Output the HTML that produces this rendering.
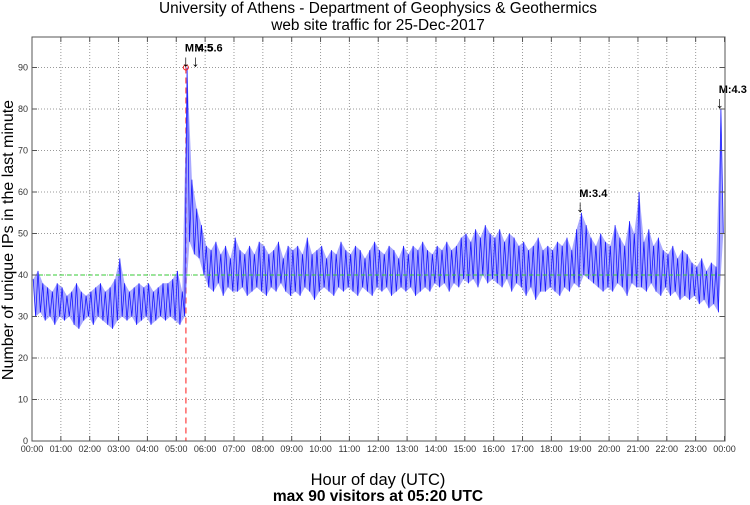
<!DOCTYPE html>
<html><head><meta charset="utf-8"><style>
body{margin:0;background:#fff;}
svg{display:block;font-family:"Liberation Sans",sans-serif;}
</style></head><body>
<svg id="c" width="750" height="505">
<text x="378" y="13" font-size="15.4" text-anchor="middle">University of Athens - Department of Geophysics &amp; Geothermics</text>
<text x="378" y="30" font-size="15.4" text-anchor="middle">web site traffic for 25-Dec-2017</text>
<g id="grid"></g>
<g id="series"></g>
<g id="ann"></g>
<rect x="32" y="37" width="693" height="404" fill="none" stroke="#555" stroke-width="1"/>
<g id="ticks"></g>
<text transform="translate(13,240) rotate(-90)" font-size="16" text-anchor="middle">Number of unique IPs in the last minute</text>
<text x="378" y="485" font-size="16.5" text-anchor="middle">Hour of day (UTC)</text>
<text x="378" y="501" font-size="15.5" font-weight="bold" text-anchor="middle">max 90 visitors at 05:20 UTC</text>
</svg>
<script>
const hiVals=[39,41,38,37,36,38, 37,35,36,38,36,35, 36,37,38,36,37,39, 44,38,36,37,38,37, 38,36,37,38,38,39, 41,36,90,63,56,52,
47,46,48,45,47,44, 49,46,45,47,45,48, 47,45,46,48,44,47, 46,47,45,49,45,46, 47,44,46,45,48,46, 45,47,46,44,46,48,
46,45,47,46,44,47, 45,47,46,48,46,45, 47,46,48,46,47,49, 50,48,51,49,52,50, 49,51,48,50,49,47, 48,46,47,49,46,47,
46,48,47,49,46,51, 55,52,49,47,50,48, 47,52,49,47,53,50, 60,48,51,47,49,46, 45,47,44,46,45,43, 42,44,41,43,42,80];
const loVals=[30,31,29,30,28,30, 29,30,28,27,29,30, 28,30,29,28,27,29, 30,29,30,28,29,30, 28,29,30,29,30,29, 28,30,48,45,44,40,
37,36,38,35,37,36, 36,37,35,36,37,36, 35,37,36,38,36,35, 36,35,37,36,34,36, 37,36,35,37,36,37, 36,35,37,36,35,37,
36,37,35,36,37,36, 37,35,36,37,36,38, 37,38,36,38,37,39, 38,39,37,40,38,39, 38,37,39,36,38,37, 35,37,34,36,36,37,
36,35,37,36,38,37, 40,39,38,37,36,37, 36,38,37,35,38,37, 37,36,38,36,35,37, 35,36,34,35,34,35, 33,34,32,33,31,50];
const binMinutes=10;
const yTicks=[0,10,20,30,40,50,60,70,80,90];
const xTickLabels=["00:00","01:00","02:00","03:00","04:00","05:00","06:00","07:00","08:00","09:00","10:00","11:00","12:00","13:00","14:00","15:00","16:00","17:00","18:00","19:00","20:00","21:00","22:00","23:00","00:00"];
const meanLevel=40;
const maxMinute=320, maxValue=90;
const markerLabels=["M:4.5","M:5.6","M:3.4","M:4.3"];
const markerMinutes=[320,340,1140,1430];
const markerValues=[90,90,55,80];

const X0=32,X1=724.5,Y0=441,YT=67.5;
const X=m=>X0+(X1-X0)*m/1440;
const Y=v=>Y0-(Y0-YT)*v/90;
const NS="http://www.w3.org/2000/svg";
function mk(p,t,a){const e=document.createElementNS(NS,t);for(const k in a)e.setAttribute(k,a[k]);p.appendChild(e);return e;}
const grid=document.getElementById('grid'),ticks=document.getElementById('ticks'),ser=document.getElementById('series'),ann=document.getElementById('ann');
yTicks.forEach(v=>{
 if(v>0){const g=mk(grid,'line',{x1:X0,x2:725,y1:Y(v),y2:Y(v),stroke:'#999','stroke-dasharray':'1,2'});
 
 }
 const t=mk(ticks,'text',{x:28,y:Y(v)+3,'font-size':9,'text-anchor':'end',fill:'#333'});t.textContent=v;
 
 
 mk(ticks,'line',{x1:X0,x2:X0+5,y1:Y(v),y2:Y(v),stroke:'#555'});
 mk(ticks,'line',{x1:720,x2:725,y1:Y(v),y2:Y(v),stroke:'#555'});
});
xTickLabels.forEach((l,i)=>{
 const x=X(i*60);
 if(i>0&&i<24){const g=mk(grid,'line',{x1:x,x2:x,y1:37,y2:Y0,stroke:'#999','stroke-dasharray':'1,2'});
 
 }
 mk(ticks,'line',{x1:x,x2:x,y1:Y0,y2:Y0-5,stroke:'#555'});
 mk(ticks,'line',{x1:x,x2:x,y1:37,y2:42,stroke:'#555'});
 const t=mk(ticks,'text',{x:x,y:452,'font-size':9,'text-anchor':'middle',fill:'#333'});t.textContent=l;
 
 
});
const vl=mk(ser,'line',{x1:X(maxMinute),x2:X(maxMinute),y1:Y(maxValue),y2:Y0,stroke:'#f66','stroke-width':1.5,'stroke-dasharray':'6,4'});


const topPts=[],botPts=[],zig=[];
hiVals.forEach((h,i)=>{
 const x=X(i*binMinutes),w=X(binMinutes)-X0;
 topPts.push([x+w*0.25,Y(h)]);botPts.push([x+w*0.75,Y(loVals[i])]);
 zig.push((x+w*0.25).toFixed(1)+','+Y(h).toFixed(1));
 zig.push((x+w*0.75).toFixed(1)+','+Y(loVals[i]).toFixed(1));
});
const band=mk(ser,'polygon',{points:topPts.concat(botPts.slice().reverse()).map(p=>p[0].toFixed(1)+','+p[1].toFixed(1)).join(' '),fill:'#7070ff','fill-opacity':0.6});


const ln=mk(ser,'polyline',{points:zig.join(' '),fill:'none',stroke:'#1a1aff','stroke-width':0.8});


const ml=mk(ser,'line',{x1:X0,x2:725,y1:Y(meanLevel),y2:Y(meanLevel),stroke:'#3c3','stroke-dasharray':'4,3'});


const mc=mk(ser,'circle',{cx:X(maxMinute),cy:Y(maxValue),r:2.5,fill:'none',stroke:'#e22'});


markerLabels.forEach((l,i)=>{
 const x=X(markerMinutes[i]),y=Y(markerValues[i]);
 const a=mk(ann,'text',{x:x,y:y-1,'font-size':16,'text-anchor':'middle'});a.textContent='↓';
 
 
 const t=mk(ann,'text',{x:x-1,y:y-16,'font-size':11,'font-weight':'bold'});t.textContent=l;
 
 
});
</script>
</body></html>
